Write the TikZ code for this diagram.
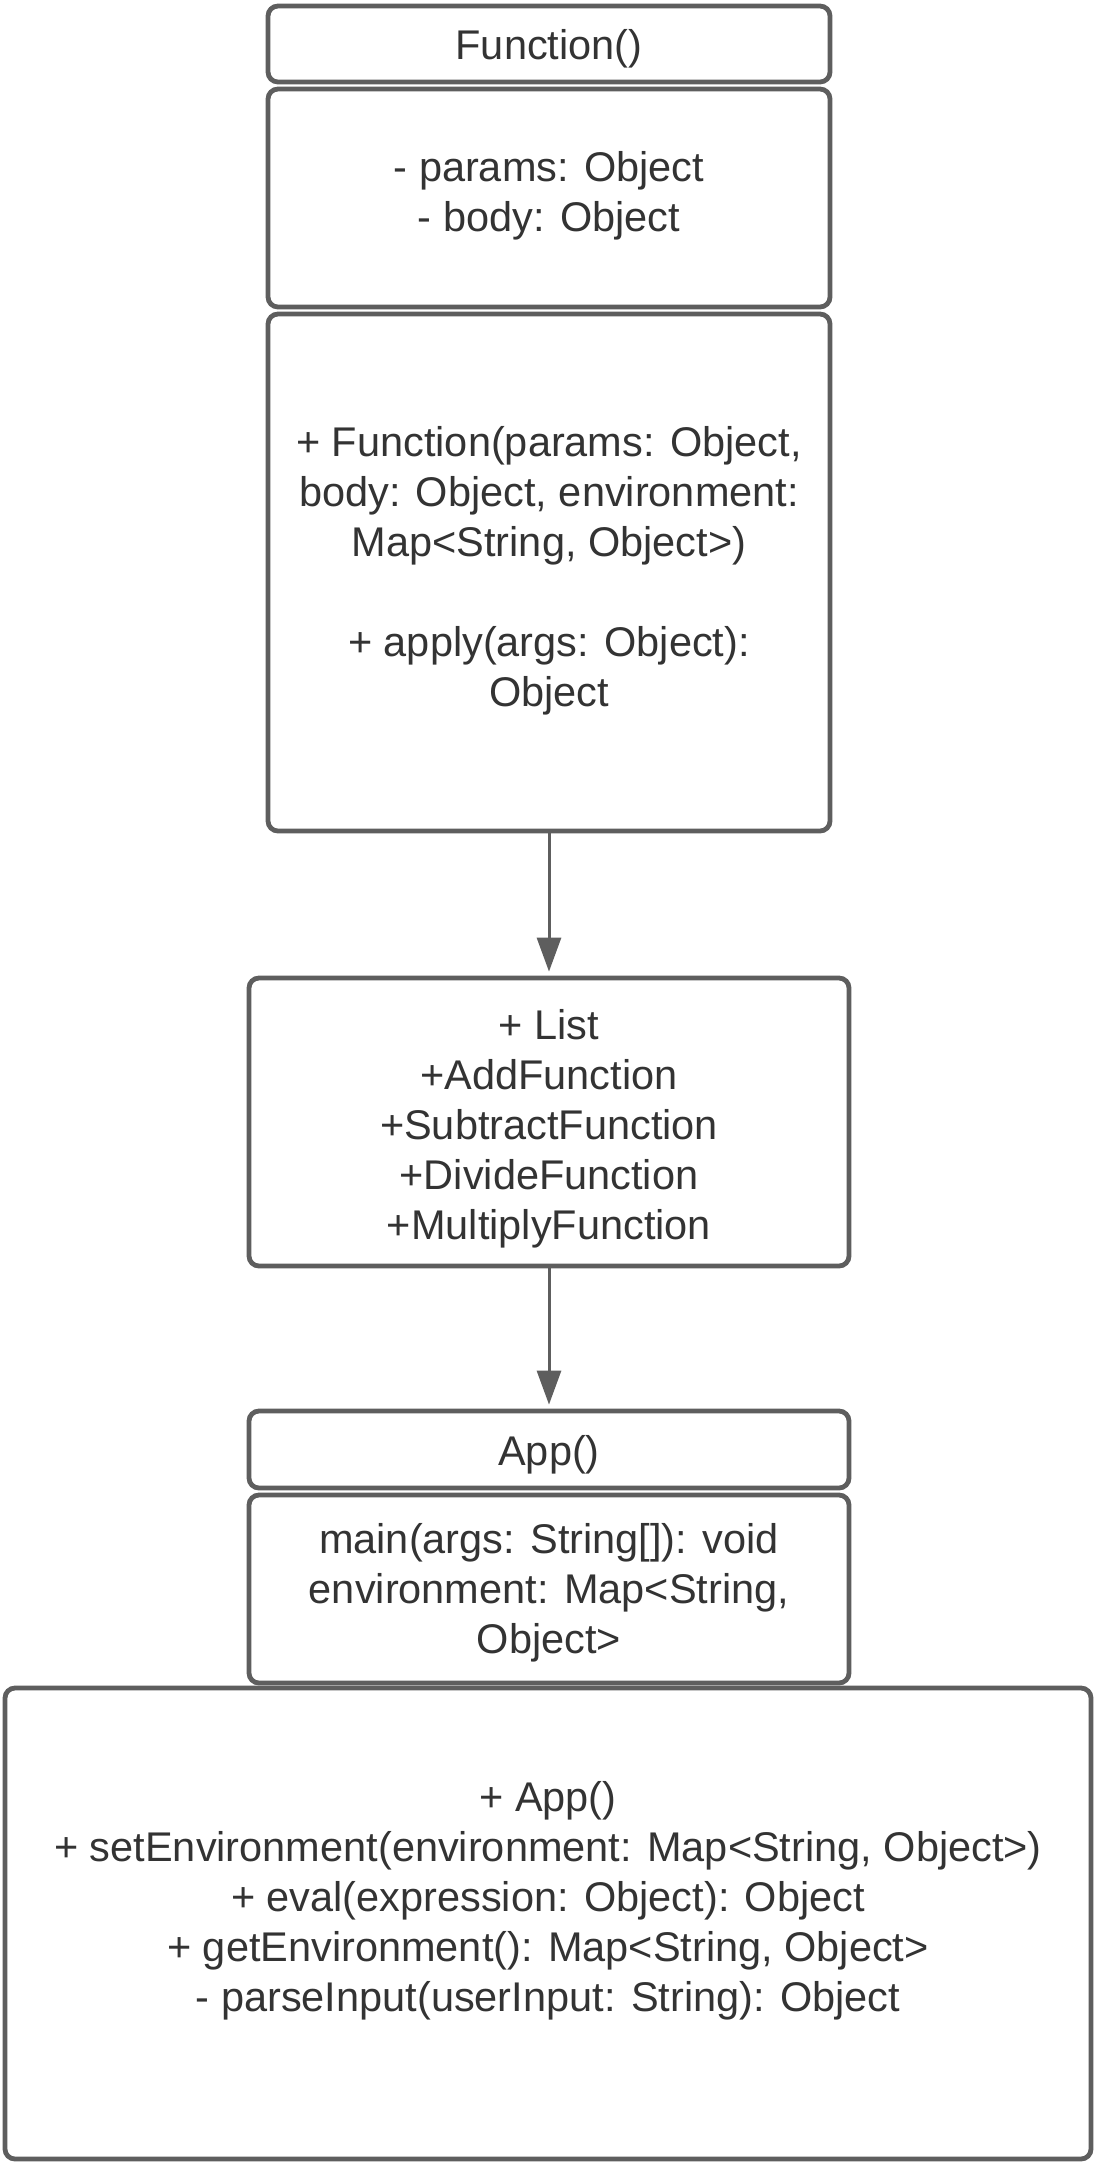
\documentclass[tikz,border=0pt]{standalone}
\usepackage{fontspec}
\setmainfont{Liberation Sans}
\usetikzlibrary{arrows.meta}
\definecolor{edgegray}{HTML}{5E5E5E}
\definecolor{ink}{HTML}{333333}
\begin{document}
\begin{tikzpicture}[x=1pt,y=-1pt,
  box/.style={draw=edgegray, line width=4.8pt, rounded corners=10pt, fill=white, inner sep=0pt},
  txt/.style={text=ink, font=\fontsize{41.5}{50}\selectfont, align=center, inner sep=0pt},
  conn/.style={draw=edgegray, line width=3pt, -{Triangle[length=34pt,width=24pt]}, shorten >=4pt}]
\useasboundingbox (0,0) rectangle (1097,2164);
\node[box, minimum width=562pt, minimum height=76pt] (fh) at (549,44) {};
\node[txt] (fht) at ([yshift=-5pt]fh.center) {Function()};
\node[box, minimum width=562pt, minimum height=218pt] (fa) at (549,198) {};
\node[txt] (fat) at (549,196) {- params: Object\\- body: Object};
\node[box, minimum width=562pt, minimum height=517pt] (fm) at (549,572.5) {};
\node[txt] (fmt) at (549,571) {+ Function(params: Object,\\body: Object, environment:\\Map<String, Object>)\\[50pt]+ apply(args: Object):\\Object};
\node[box, minimum width=600pt, minimum height=288pt] (ls) at (549,1122) {};
\node[txt] (lst) at ([yshift=-7pt]ls.center) {+ List\\+AddFunction\\+SubtractFunction\\+DivideFunction\\+MultiplyFunction};
\node[box, minimum width=600pt, minimum height=77pt] (ah) at (549,1449.5) {};
\node[txt] (aht) at ([yshift=-5pt]ah.center) {App()};
\node[box, minimum width=600pt, minimum height=188pt] (aa) at (549,1589) {};
\node[txt] (aat) at ([yshift=-4pt]aa.center) {main(args: String[]): void\\environment: Map<String,\\Object>};
\node[box, minimum width=1086pt, minimum height=471pt] (am) at (548,1923.5) {};
\node[txt] (amt) at (548,1901) {+ App()\\+ setEnvironment(environment: Map<String, Object>)\\+ eval(expression: Object): Object\\+ getEnvironment(): Map<String, Object>\\- parseInput(userInput: String): Object};
\draw[conn] (fm.south) -- (ls.north);
\draw[conn] (ls.south) -- (ah.north);
\end{tikzpicture}
\end{document}
